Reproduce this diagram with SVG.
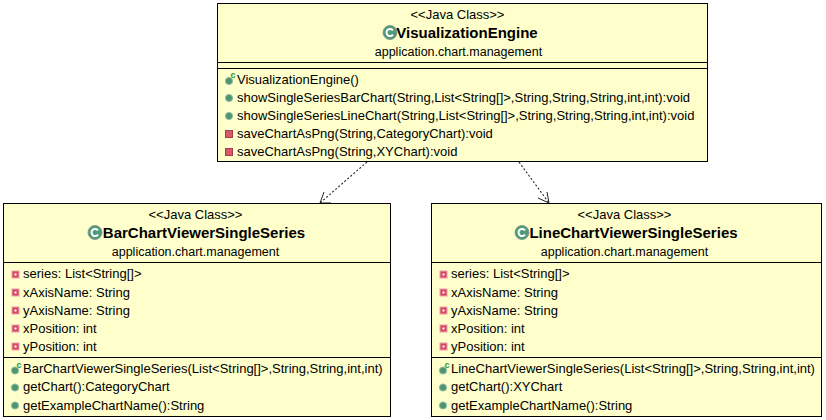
<svg xmlns="http://www.w3.org/2000/svg" width="826" height="420" viewBox="0 0 826 420">
<style>
text{font-family:"Liberation Sans",Arial,sans-serif;font-size:13px;fill:#000}
.c{text-anchor:middle}
.s{text-anchor:middle;font-size:12.500px}
.t{font-size:15px;font-weight:bold;text-anchor:middle}
.b{fill:#ffffcc;stroke:#000;stroke-width:1}
.l{stroke:#000;stroke-width:1;fill:none}
.g{fill:#4f9470;stroke:#8fbfa0;stroke-width:1}
.r{fill:#d85868;stroke:#a04050;stroke-width:1}
.q{font-size:9px;font-weight:bold;fill:#1f9a3a}
.d{stroke:#222;stroke-width:1.100;fill:none;stroke-dasharray:2 2}
.a{stroke:#222;stroke-width:1;fill:none}
</style>
<defs>
<g id="ci"><circle r="7" fill="#4f9a78" stroke="#8a9a90" stroke-width="1"/><path d="M3 -2.200A3.600 3.600 0 1 0 3 2.200" fill="none" stroke="#fff" stroke-width="2"/></g>
<circle id="pub" r="3.600" class="g"/>
<g id="pri"><rect x="-3.500" y="-3.500" width="7" height="7" class="r"/></g>
<g id="fld"><rect x="-3.500" y="-3.500" width="7" height="7" fill="#d84860" stroke="#e8a0a8"/><rect x="-1" y="-1" width="2" height="2" fill="#fff"/></g>
<g id="ctr"><circle cy="1" r="3.600" class="g"/><text x="1.500" y="-2" class="q">c</text></g>
</defs>
<g id="connectors">
<path class="d" d="M367 162L320 203"/>
<path class="a" d="M324 192L320 203L331 203"/>
<path class="d" d="M519 162L549 203"/>
<path class="a" d="M538 198L549 203L547 192"/>
</g>
<g id="VisualizationEngine">
<rect class="b" x="217.500" y="3.500" width="490" height="158"/>
<path class="l" d="M217.500 62.500H707.500M217.500 68.500H707.500"/>
<text class="c" x="457.500" y="19">&lt;&lt;Java Class&gt;&gt;</text>
<use href="#ci" x="390" y="32.500"/>
<text class="t" x="467" y="38">VisualizationEngine</text>
<text class="s" x="458.500" y="56">application.chart.management</text>
<use href="#ctr" x="229" y="80"/>
<text x="237" y="84">VisualizationEngine()</text>
<use href="#pub" x="229" y="98"/>
<text x="237" y="102">showSingleSeriesBarChart(String,List&lt;String[]&gt;,String,String,String,int,int):void</text>
<use href="#pub" x="229" y="116"/>
<text x="237" y="120">showSingleSeriesLineChart(String,List&lt;String[]&gt;,String,String,String,int,int):void</text>
<use href="#pri" x="229" y="134"/>
<text x="237" y="138">saveChartAsPng(String,CategoryChart):void</text>
<use href="#pri" x="229" y="152"/>
<text x="237" y="156">saveChartAsPng(String,XYChart):void</text>
</g>
<g id="BarChartViewerSingleSeries">
<rect class="b" x="3.500" y="203.500" width="387" height="213"/>
<path class="l" d="M3.500 262.500H390.500M3.500 357.500H390.500"/>
<text class="c" x="195.500" y="219">&lt;&lt;Java Class&gt;&gt;</text>
<use href="#ci" x="95" y="232.500"/>
<text class="t" x="204" y="238">BarChartViewerSingleSeries</text>
<text class="s" x="195.500" y="256">application.chart.management</text>
<use href="#fld" x="15.500" y="274.500"/><text x="23" y="278">series: List&lt;String[]&gt;</text>
<use href="#fld" x="15.500" y="292.500"/><text x="23" y="297">xAxisName: String</text>
<use href="#fld" x="15.500" y="310.500"/><text x="23" y="315">yAxisName: String</text>
<use href="#fld" x="15.500" y="328.500"/><text x="23" y="333">xPosition: int</text>
<use href="#fld" x="15.500" y="346.500"/><text x="23" y="351">yPosition: int</text>
<use href="#ctr" x="15" y="369.500"/><text x="23" y="373">BarChartViewerSingleSeries(List&lt;String[]&gt;,String,String,int,int)</text>
<use href="#pub" x="15" y="387.500"/><text x="23" y="391">getChart():CategoryChart</text>
<use href="#pub" x="15" y="405.500"/><text x="23" y="410">getExampleChartName():String</text>
</g>
<g id="LineChartViewerSingleSeries">
<rect class="b" x="431.500" y="203.500" width="390" height="213"/>
<path class="l" d="M431.500 262.500H821.500M431.500 357.500H821.500"/>
<text class="c" x="624.500" y="219">&lt;&lt;Java Class&gt;&gt;</text>
<use href="#ci" x="522" y="232.500"/>
<text class="t" x="633.500" y="238">LineChartViewerSingleSeries</text>
<text class="s" x="624.500" y="256">application.chart.management</text>
<use href="#fld" x="443.500" y="274.500"/><text x="451" y="278">series: List&lt;String[]&gt;</text>
<use href="#fld" x="443.500" y="292.500"/><text x="451" y="297">xAxisName: String</text>
<use href="#fld" x="443.500" y="310.500"/><text x="451" y="315">yAxisName: String</text>
<use href="#fld" x="443.500" y="328.500"/><text x="451" y="333">xPosition: int</text>
<use href="#fld" x="443.500" y="346.500"/><text x="451" y="351">yPosition: int</text>
<use href="#ctr" x="443" y="369.500"/><text x="451" y="373">LineChartViewerSingleSeries(List&lt;String[]&gt;,String,String,int,int)</text>
<use href="#pub" x="443" y="387.500"/><text x="451" y="391">getChart():XYChart</text>
<use href="#pub" x="443" y="405.500"/><text x="451" y="410">getExampleChartName():String</text>
</g>
</svg>
